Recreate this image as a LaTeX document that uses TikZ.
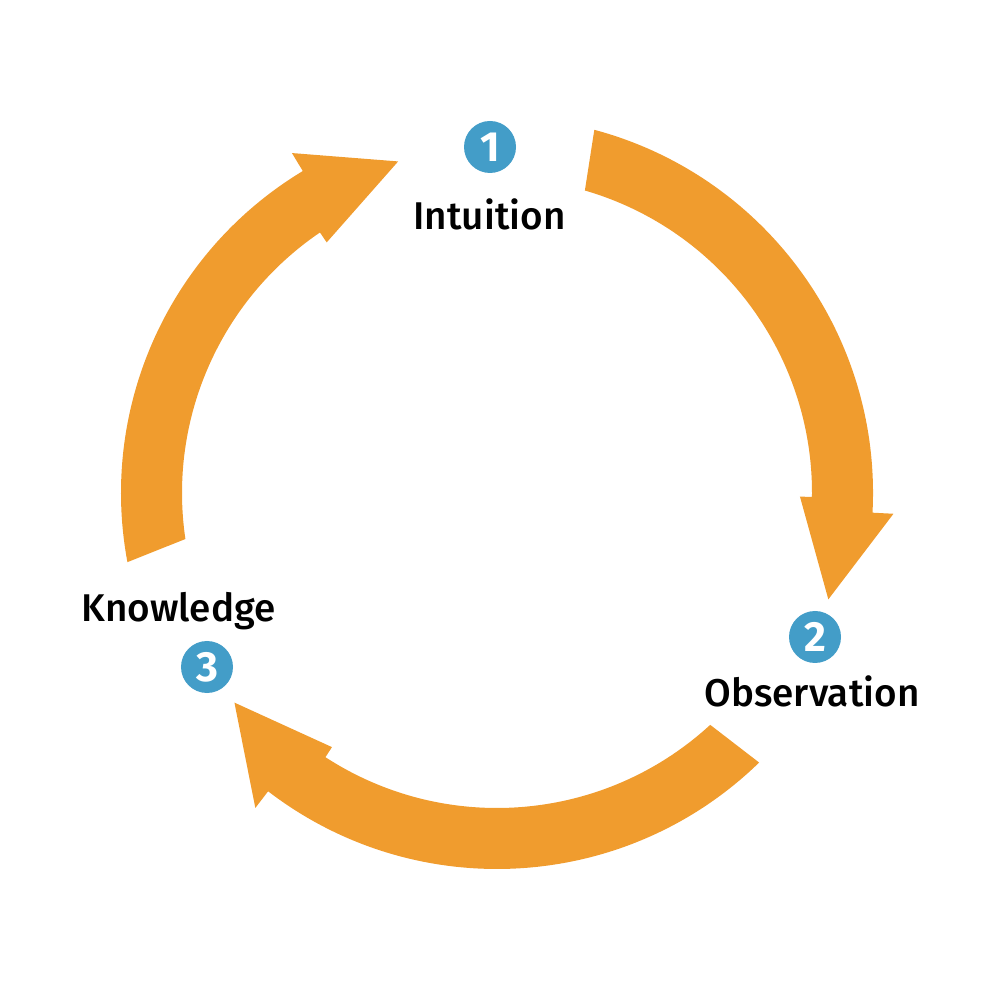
\documentclass[tikz,border=0pt]{standalone}
\usepackage{fontspec}
\setmainfont{Fira Sans}[UprightFont=* Medium, BoldFont=* Bold]
\usepackage{tikz}
\definecolor{cycleorange}{HTML}{F09C2E}
\definecolor{badgeblue}{HTML}{439DC8}

\begin{document}
\begin{tikzpicture}[
    badge/.style={circle, fill=badgeblue, minimum size=0.52cm, inner sep=0pt,
                  text=white, font=\fontsize{12}{12}\selectfont\bfseries},
    steplabel/.style={anchor=base, font=\fontsize{11}{12}\selectfont}]
    % frame, centre of the cycle at the origin
    \useasboundingbox (-4.97,-5.07) rectangle (5.03,4.93);

    % Arrows: outer/inner start angle, inner/outer base angle, tip angle and radius
    \foreach \so/\si/\bi/\bo/\tp/\tr in {75/73.8/-0.7/-3.0/-17.8/3.48,
                                        -45.8/-47.4/-123.0/-127.5/-141.4/3.36,
                                        190.6/188.4/124.2/121.1/106.6/3.46}
    {
        \fill[cycleorange] (\so:3.76) arc[start angle=\so, end angle=\bo, radius=3.76]
            -- (\bo:3.97) -- (\tp:\tr) -- (\bi:3.03) -- (\bi:3.15)
            arc[start angle=\bi, end angle=\si, radius=3.15] -- cycle;
    }

    % Numbers
    \node[badge] (num1) at (-0.07,3.46) {1};
    \node[badge] (num2) at (3.18,-1.44) {2};
    \node[badge] (num3) at (-2.90,-1.74) {3};

    % Labels
    \node[steplabel] (intuition) at (-0.075,2.63) {Intuition};
    \node[steplabel] (observation) at (3.15,-2.14) {Observation};
    \node[steplabel] (knowledge) at (-3.185,-1.29) {Knowledge};

\end{tikzpicture}
\end{document}
